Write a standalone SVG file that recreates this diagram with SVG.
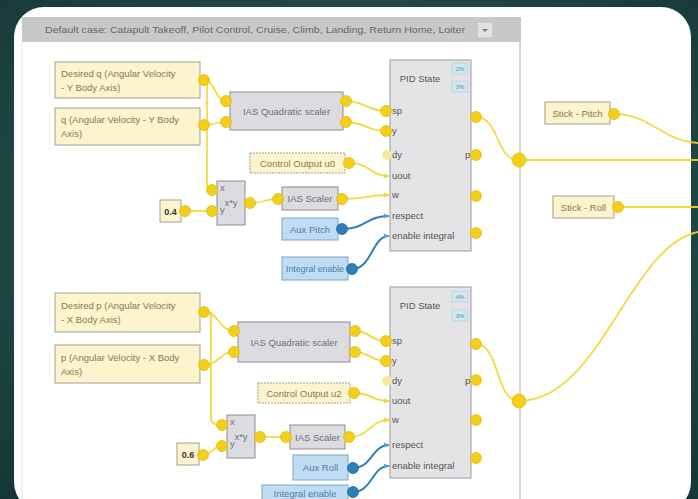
<svg xmlns="http://www.w3.org/2000/svg" width="698" height="499" viewBox="0 0 698 499">
<defs>
<radialGradient id="bg" cx="50%" cy="45%" r="75%">
<stop offset="0" stop-color="#2f6464"/>
<stop offset="1" stop-color="#153535"/>
</radialGradient>
<style>
text{font-family:"Liberation Sans",Arial,sans-serif;}
.yn{fill:#fcf3cf;stroke:#a59f8a;stroke-width:1;}
.gn{fill:#dcdce0;stroke:#8c8c92;stroke-width:1;}
.bn{fill:#bfdcf2;stroke:#7aa7c6;stroke-width:1;}
.pid{fill:#e4e4e6;stroke:#9a9aa2;stroke-width:1;}
.tag{fill:#cfe8ec;stroke:#a9cdd3;stroke-width:0.6;}
.yt{font-size:9.5px;fill:#8a7a45;}
.gt{font-size:9.5px;fill:#6c6c86;}
.bt{font-size:9.5px;fill:#4c7fa6;}
.pt{font-size:9.5px;fill:#555;}
.tt{font-size:6px;fill:#5c8a94;}
.port{fill:#f2cf1c;stroke:#e6bd00;stroke-width:0.8;}
.bport{fill:#2d7fb5;stroke:#1f6a9c;stroke-width:0.8;}
.w{fill:none;stroke:#f0d631;stroke-width:1.8;stroke-opacity:0.9;}
.bw{fill:none;stroke:#2f7fb8;stroke-width:2;}
</style>
<marker id="ya" markerUnits="userSpaceOnUse" markerWidth="6" markerHeight="6" refX="5" refY="3" orient="auto"><path d="M0,0.5 L5,3 L0,5.5 z" fill="#f0d631"/></marker>
<marker id="ba" markerUnits="userSpaceOnUse" markerWidth="6" markerHeight="6" refX="5" refY="3" orient="auto"><path d="M0,0.5 L5,3 L0,5.5 z" fill="#4aa8d8"/></marker>
</defs>
<rect x="0" y="0" width="698" height="499" fill="url(#bg)"/>
<rect x="14" y="7" width="677" height="505" rx="30" fill="#ffffff"/>
<line x1="520" y1="42" x2="520" y2="499" stroke="#c9c9c9" stroke-width="1.5"/>
<line x1="22" y1="42" x2="22" y2="499" stroke="#e2e2e2" stroke-width="1"/>

<g id="toolbar">
<rect x="22" y="17" width="499" height="25" fill="#c8c8c8"/>
<text x="45" y="33" font-size="9.2" fill="#666" textLength="420" lengthAdjust="spacingAndGlyphs">Default case: Catapult Takeoff, Pilot Control, Cruise, Climb, Landing, Return Home, Loiter</text>
<rect x="477" y="22" width="16" height="16" fill="#e2e2e2" stroke="#bcbcbc"/>
<path d="M482,29 L488,29 L485,32 z" fill="#777"/>
</g>

<g id="connectors">
<path class="w" d="M204,80 C215,80 215,101 226,101"/>
<path class="w" d="M204,125 C215,125 215,122 226,122"/>
<path class="w" d="M207,80 L207,183 Q207,190 212,190"/>
<path class="w" d="M185,211 L212,211"/>
<path class="w" d="M250,203 C264,203 264,199 278,199"/>
<path class="w" d="M342,199 C365,199 365,195 389,195" marker-end="url(#ya)"/>
<path class="w" d="M345,101 C366,101 366,111 386,111"/>
<path class="w" d="M345,122 C366,122 366,131 386,131"/>
<path class="w" d="M349,163 C370,163 370,176 389,176" marker-end="url(#ya)"/>
<path class="bw" d="M342,229 C366,229 366,216 389,216" marker-end="url(#ba)"/>
<path class="bw" d="M352,269 C372,269 372,236 389,236" marker-end="url(#ba)"/>
<path class="w" d="M476,117 C500,117 495,160 519,160"/>
<path class="w" d="M519,160 L698,160"/>
<path class="w" d="M614,114 C650,114 660,140 698,143"/>
<path class="w" d="M618,207 L698,207"/>

<path class="w" d="M204,312 C219,312 219,331 234,331"/>
<path class="w" d="M204,365 C219,365 219,352 234,352"/>
<path class="w" d="M211,312 L211,418 Q211,425 222,425"/>
<path class="w" d="M203,455 C212,455 212,446 222,446"/>
<path class="w" d="M260,437 L286,437"/>
<path class="w" d="M349,437 C370,437 370,420 389,420" marker-end="url(#ya)"/>
<path class="w" d="M355,331 C370,331 370,341 386,341"/>
<path class="w" d="M355,352 C370,352 370,361 386,361"/>
<path class="w" d="M354,393 C372,393 372,401 389,401" marker-end="url(#ya)"/>
<path class="bw" d="M353,468 C372,468 372,445 389,445" marker-end="url(#ba)"/>
<path class="bw" d="M353,492 C372,492 372,466 389,466" marker-end="url(#ba)"/>
<path class="w" d="M476,344 C500,344 495,401 519,401"/>
<path class="w" d="M519,401 C600,401 630,245 698,232"/>
</g>

<g id="desired_q">
<rect class="yn" x="55" y="62" width="145" height="36"/>
<text class="yt" x="61" y="77">Desired q (Angular Velocity</text>
<text class="yt" x="61" y="91">- Y Body Axis)</text>
<circle class="port" cx="204" cy="80" r="5.5"/>
</g>
<g id="q_meas">
<rect class="yn" x="55" y="108" width="145" height="37"/>
<text class="yt" x="61" y="123">q (Angular Velocity - Y Body</text>
<text class="yt" x="61" y="137">Axis)</text>
<circle class="port" cx="204" cy="125" r="5.5"/>
</g>
<g id="ias_quad_1">
<rect class="gn" x="230" y="92" width="113" height="38"/>
<text class="gt" x="286.5" y="114.5" text-anchor="middle">IAS Quadratic scaler</text>
<circle class="port" cx="226" cy="101" r="5.5"/>
<circle class="port" cx="226" cy="122" r="5.5"/>
<circle class="port" cx="346" cy="101" r="5.5"/>
<circle class="port" cx="346" cy="122" r="5.5"/>
</g>
<g id="ctrl_u0">
<rect class="yn" x="250" y="153" width="95" height="20" stroke-dasharray="2,1"/>
<text class="yt" x="297.5" y="166.5" text-anchor="middle">Control Output u0</text>
<circle class="port" cx="349" cy="163" r="5.5"/>
</g>
<g id="mult_1">
<rect class="gn" x="217" y="181" width="28" height="44"/>
<text class="gt" x="220" y="191" font-size="5.5">x</text>
<text class="gt" x="220" y="213" font-size="5.5">y</text>
<text class="gt" x="231" y="206" text-anchor="middle" font-size="8.5">x*y</text>
<circle class="port" cx="212" cy="190" r="5.5"/>
<circle class="port" cx="212" cy="211" r="5.5"/>
<circle class="port" cx="250" cy="203" r="5.5"/>
</g>
<g id="const_04">
<rect class="yn" x="160" y="200" width="21" height="22"/>
<text x="170.5" y="214.5" text-anchor="middle" font-size="9" font-weight="bold" fill="#333">0.4</text>
<circle class="port" cx="185" cy="211" r="5.5"/>
</g>
<g id="ias_scaler_1">
<rect class="gn" x="282" y="187" width="56" height="23"/>
<text class="gt" x="310" y="202" text-anchor="middle">IAS Scaler</text>
<circle class="port" cx="278" cy="199" r="5.5"/>
<circle class="port" cx="342" cy="199" r="5.5"/>
</g>
<g id="aux_pitch">
<rect class="bn" x="282" y="218" width="56" height="22"/>
<text class="bt" x="310" y="232.5" text-anchor="middle">Aux Pitch</text>
<circle class="bport" cx="342" cy="229" r="5.5"/>
</g>
<g id="int_enable_1">
<rect class="bn" x="282" y="257" width="66" height="23"/>
<text class="bt" x="315" y="271.5" text-anchor="middle" textLength="58" lengthAdjust="spacingAndGlyphs">Integral enable</text>
<circle class="bport" cx="352" cy="269" r="5.5"/>
</g>
<g id="pid_1">
<rect class="pid" x="390" y="60" width="81" height="191"/>
<text class="pt" x="420" y="82" text-anchor="middle" fill="#888">PID State</text>
<rect class="tag" x="452" y="63" width="16" height="11"/>
<text class="tt" x="460" y="71" text-anchor="middle">2%</text>
<rect class="tag" x="452" y="81" width="16" height="11"/>
<text class="tt" x="460" y="89" text-anchor="middle">3%</text>
<text class="pt" x="392" y="114">sp</text>
<text class="pt" x="392" y="134">y</text>
<text class="pt" x="392" y="158">dy</text>
<text class="pt" x="392" y="179">uout</text>
<text class="pt" x="392" y="198">w</text>
<text class="pt" x="392" y="219">respect</text>
<text class="pt" x="392" y="239">enable integral</text>
<text class="pt" x="465" y="158" font-size="8">p</text>
<circle class="port" cx="386" cy="111" r="5.5"/>
<circle class="port" cx="386" cy="131" r="5.5"/>
<circle cx="387" cy="155" r="5" fill="#f7eaa0"/>
<circle class="port" cx="476" cy="117" r="5.5"/>
<circle class="port" cx="476" cy="155" r="5.5"/>
<circle class="port" cx="476" cy="196" r="5.5"/>
<circle class="port" cx="476" cy="233" r="5.5"/>
</g>
<g id="junction_1">
<circle class="port" cx="519" cy="160" r="7"/>
</g>
<g id="stick_pitch">
<rect class="yn" x="545" y="102" width="65" height="22"/>
<text class="yt" x="577.5" y="116.5" text-anchor="middle">Stick - Pitch</text>
<circle class="port" cx="614" cy="114" r="5.5"/>
</g>
<g id="stick_roll">
<rect class="yn" x="553" y="196" width="61" height="22"/>
<text class="yt" x="583.5" y="210.5" text-anchor="middle">Stick - Roll</text>
<circle class="port" cx="618" cy="207" r="5.5"/>
</g>

<g id="desired_p">
<rect class="yn" x="55" y="293" width="145" height="39"/>
<text class="yt" x="61" y="309">Desired p (Angular Velocity</text>
<text class="yt" x="61" y="323">- X Body Axis)</text>
<circle class="port" cx="204" cy="312" r="5.5"/>
</g>
<g id="p_meas">
<rect class="yn" x="55" y="345" width="145" height="38"/>
<text class="yt" x="61" y="361">p (Angular Velocity - X Body</text>
<text class="yt" x="61" y="375">Axis)</text>
<circle class="port" cx="204" cy="365" r="5.5"/>
</g>
<g id="ias_quad_2">
<rect class="gn" x="238" y="322" width="112" height="40"/>
<text class="gt" x="294" y="345.5" text-anchor="middle">IAS Quadratic scaler</text>
<circle class="port" cx="234" cy="331" r="5.5"/>
<circle class="port" cx="234" cy="352" r="5.5"/>
<circle class="port" cx="355" cy="331" r="5.5"/>
<circle class="port" cx="355" cy="352" r="5.5"/>
</g>
<g id="ctrl_u2">
<rect class="yn" x="258" y="383" width="92" height="20" stroke-dasharray="2,1"/>
<text class="yt" x="304" y="396.5" text-anchor="middle">Control Output u2</text>
<circle class="port" cx="354" cy="393" r="5.5"/>
</g>
<g id="mult_2">
<rect class="gn" x="227" y="415" width="28" height="43"/>
<text class="gt" x="230" y="425" font-size="5.5">x</text>
<text class="gt" x="230" y="447" font-size="5.5">y</text>
<text class="gt" x="241" y="440" text-anchor="middle" font-size="8.5">x*y</text>
<circle class="port" cx="222" cy="425" r="5.5"/>
<circle class="port" cx="222" cy="446" r="5.5"/>
<circle class="port" cx="260" cy="437" r="5.5"/>
</g>
<g id="const_06">
<rect class="yn" x="177" y="443" width="22" height="22"/>
<text x="188" y="457.5" text-anchor="middle" font-size="9" font-weight="bold" fill="#333">0.6</text>
<circle class="port" cx="203" cy="455" r="5.5"/>
</g>
<g id="ias_scaler_2">
<rect class="gn" x="290" y="425" width="55" height="24"/>
<text class="gt" x="317.5" y="440.5" text-anchor="middle">IAS Scaler</text>
<circle class="port" cx="286" cy="437" r="5.5"/>
<circle class="port" cx="349" cy="437" r="5.5"/>
</g>
<g id="aux_roll">
<rect class="bn" x="293" y="455" width="55" height="25"/>
<text class="bt" x="320.5" y="471" text-anchor="middle">Aux Roll</text>
<circle class="bport" cx="353" cy="468" r="5.5"/>
</g>
<g id="int_enable_2">
<rect class="bn" x="262" y="485" width="86" height="22"/>
<text class="bt" x="305" y="497" text-anchor="middle">Integral enable</text>
<circle class="bport" cx="353" cy="492" r="5.5"/>
</g>
<g id="pid_2">
<rect class="pid" x="390" y="287" width="81" height="191"/>
<text class="pt" x="420" y="309" text-anchor="middle" fill="#888">PID State</text>
<rect class="tag" x="452" y="291" width="16" height="11"/>
<text class="tt" x="460" y="299" text-anchor="middle">4%</text>
<rect class="tag" x="452" y="310" width="16" height="11"/>
<text class="tt" x="460" y="318" text-anchor="middle">3%</text>
<text class="pt" x="392" y="344">sp</text>
<text class="pt" x="392" y="364">y</text>
<text class="pt" x="392" y="384">dy</text>
<text class="pt" x="392" y="404">uout</text>
<text class="pt" x="392" y="423">w</text>
<text class="pt" x="392" y="448">respect</text>
<text class="pt" x="392" y="469">enable integral</text>
<text class="pt" x="465" y="384" font-size="8">p</text>
<circle class="port" cx="386" cy="341" r="5.5"/>
<circle class="port" cx="386" cy="361" r="5.5"/>
<circle cx="387" cy="381" r="5" fill="#f7eaa0"/>
<circle class="port" cx="476" cy="344" r="5.5"/>
<circle class="port" cx="476" cy="380" r="5.5"/>
<circle class="port" cx="476" cy="420" r="5.5"/>
<circle class="port" cx="476" cy="458" r="5.5"/>
</g>
<g id="junction_2">
<circle class="port" cx="519" cy="401" r="7"/>
</g>
</svg>
